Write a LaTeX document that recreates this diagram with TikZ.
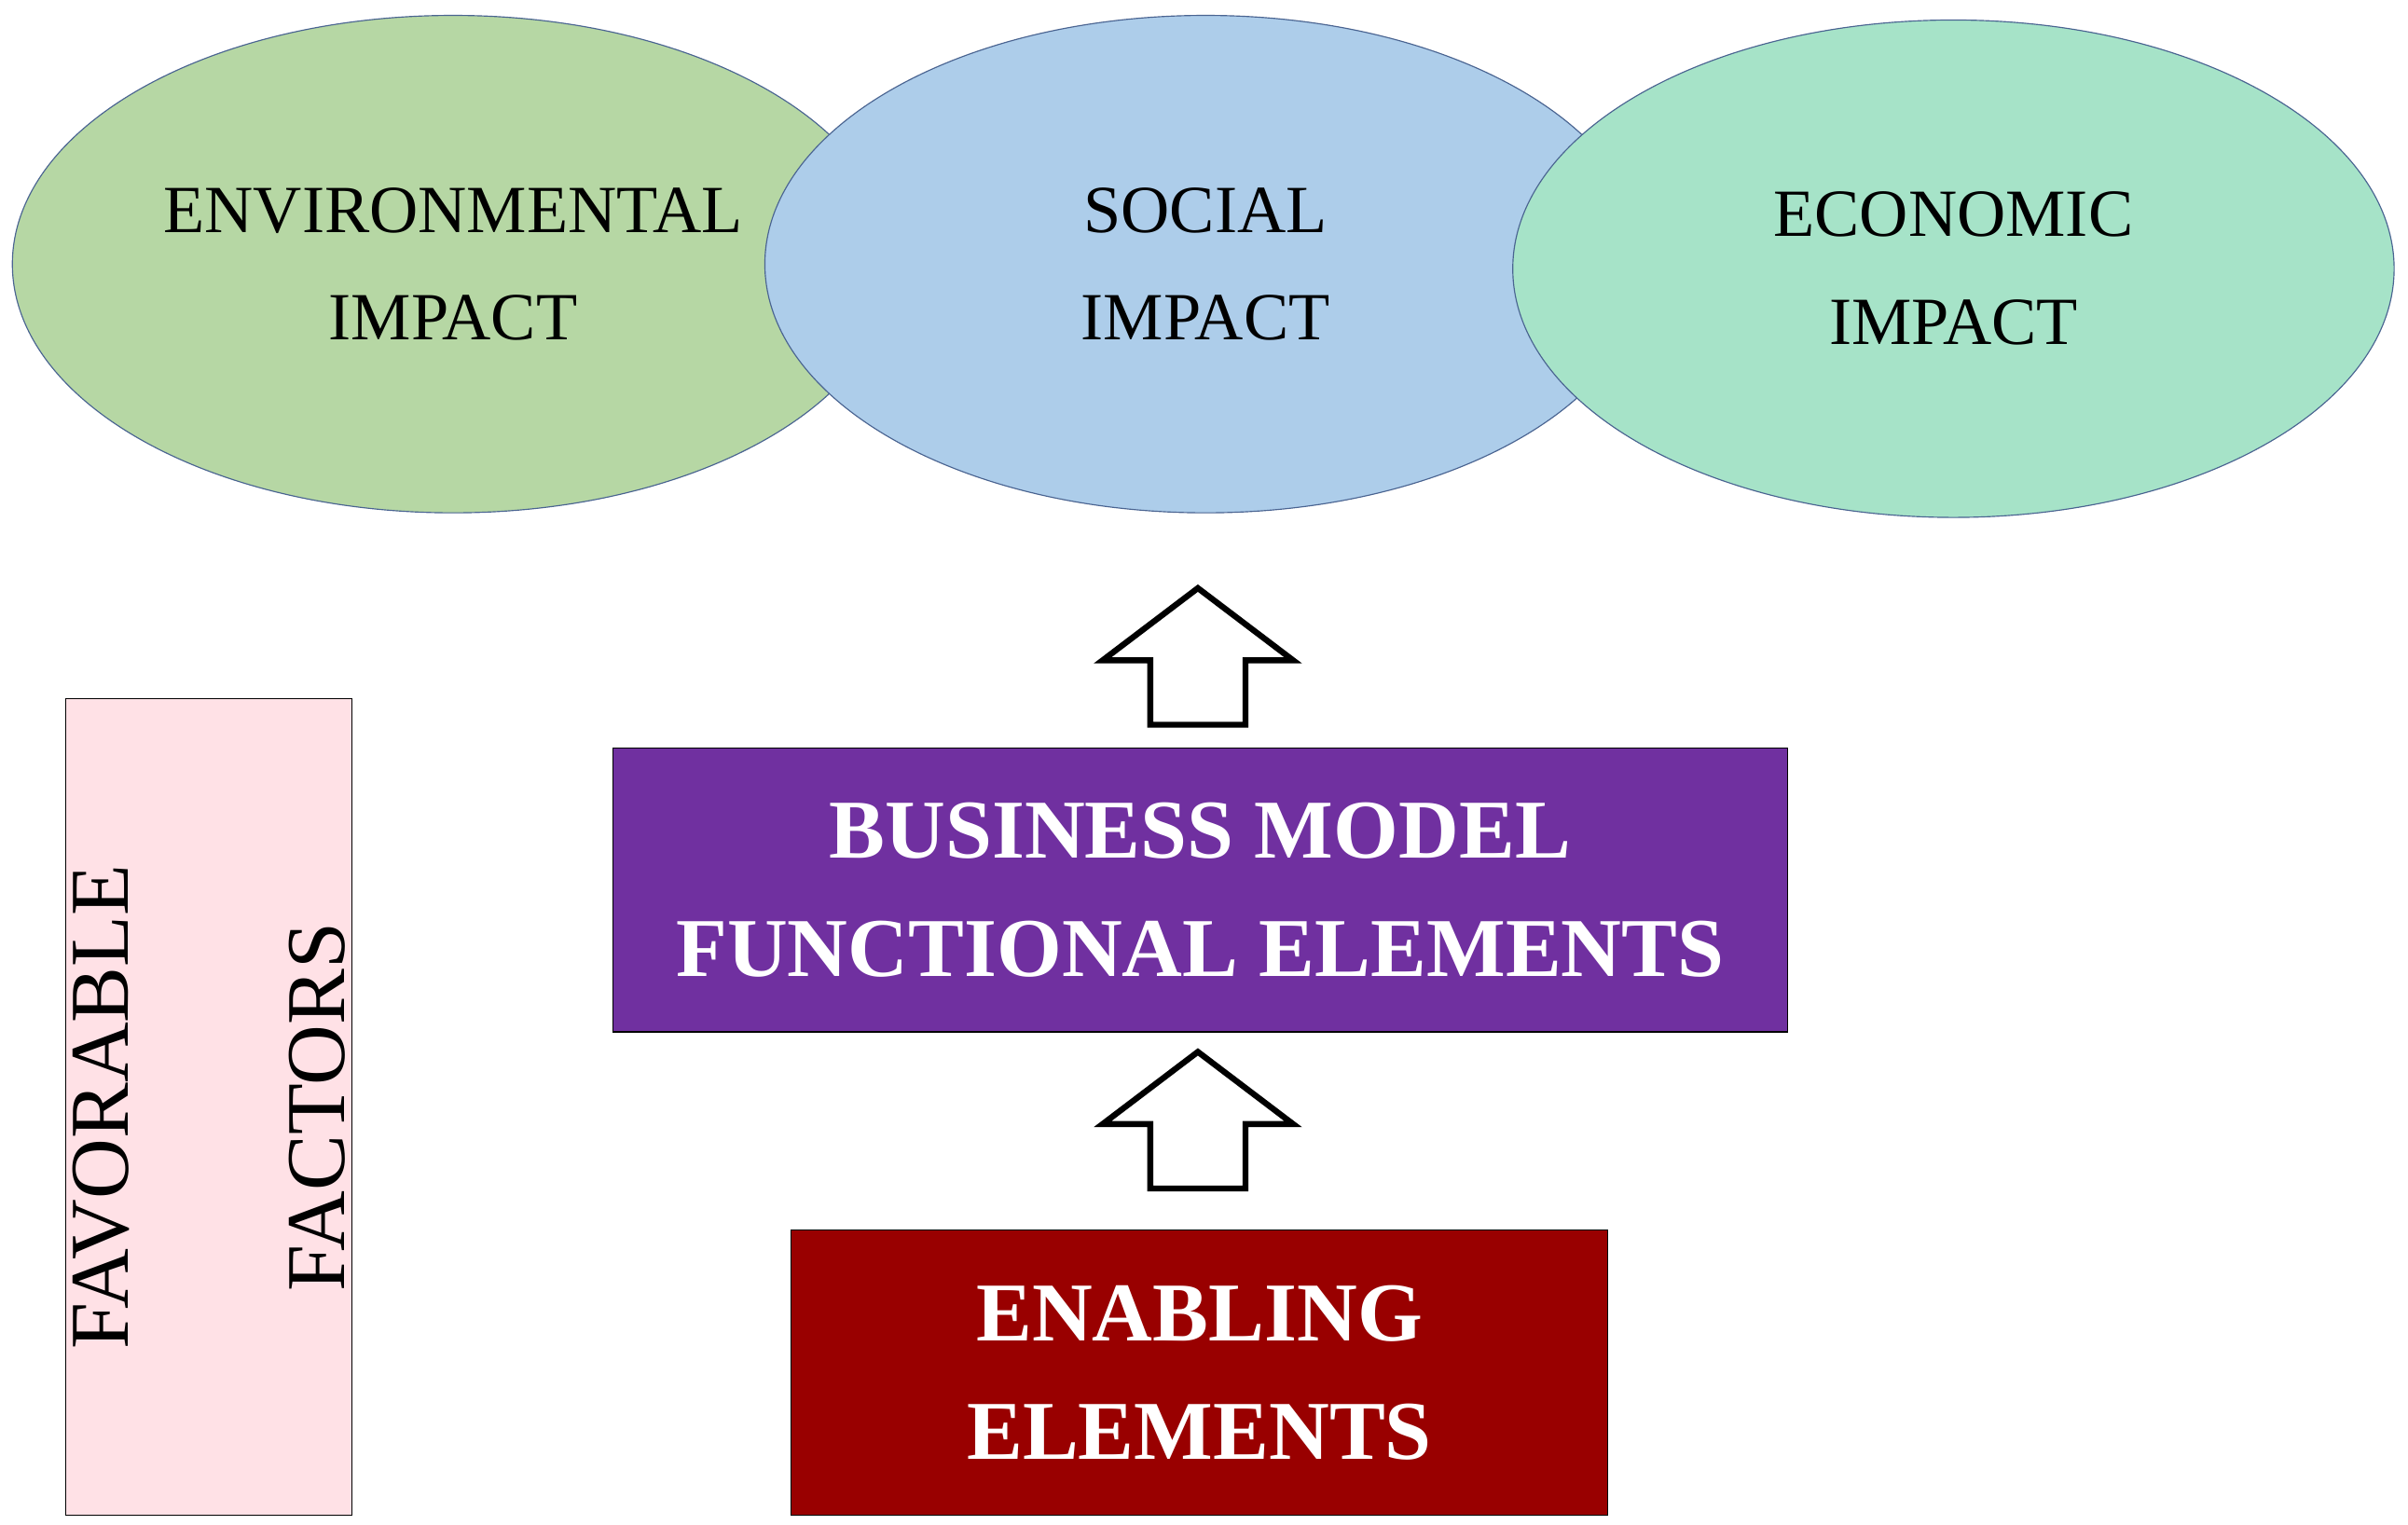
\documentclass[tikz,border=0pt]{standalone}
\usepackage{fontspec}
\setmainfont{Liberation Serif}
\usetikzlibrary{positioning,shapes.geometric}
\definecolor{envgreen}{HTML}{B6D7A4}
\definecolor{socblue}{HTML}{ADCDEA}
\definecolor{ecoteal}{HTML}{A6E3C8}
\definecolor{edgeblue}{HTML}{4A6491}
\definecolor{bmpurple}{HTML}{7030A0}
\definecolor{enred}{HTML}{990000}
\definecolor{favpink}{HTML}{FFE1E6}
\begin{document}
\begin{tikzpicture}[x=0.02cm,y=-0.02cm]
    \tikzset{impact/.style={ellipse,draw=edgeblue,thin,minimum width=11.48cm,minimum height=6.48cm,
                 align=center,font=\fontsize{25}{40}\selectfont,inner sep=0pt},
             block/.style={rectangle,draw=black,thin,align=center,text=white,
                 font=\fontsize{31}{44}\bfseries\selectfont},
             uparrow/.style={draw=black,line width=2.2pt,fill=white,line join=miter}}
	\useasboundingbox (0,0) rectangle (1568,993);
	\node (env) at (295,172) [impact,fill=envgreen] {ENVIRONMENTAL\\IMPACT};
	\node (soc) at (785,172) [impact,fill=socblue] {SOCIAL\\IMPACT};
	\node (eco) at (1272,175) [impact,fill=ecoteal] {ECONOMIC\\IMPACT};
	\node (bm) at (781.5,579.5) [block,fill=bmpurple,minimum width=15.3cm,minimum height=3.7cm] {BUSINESS MODEL\\FUNCTIONAL ELEMENTS};
	\node (en) at (781,894) [block,fill=enred,minimum width=10.64cm,minimum height=3.72cm] {ENABLING\\ELEMENTS};
	\node (fav) at (136,721) [rectangle,draw=black,thin,fill=favpink,minimum width=3.72cm,minimum height=10.64cm] {};
	\node (favtext) at (fav.center) [rotate=90,align=center,font=\fontsize{31}{80}\selectfont] {FAVORABLE\\FACTORS};
	% block arrows between the boxes
	\foreach \ty in {383,685}
	    \draw [uparrow] (780,\ty) -- ++(62,47) -- ++(-31,0) -- ++(0,42) -- ++(-62,0) -- ++(0,-42) -- ++(-31,0) -- cycle;
\end{tikzpicture}
\end{document}
